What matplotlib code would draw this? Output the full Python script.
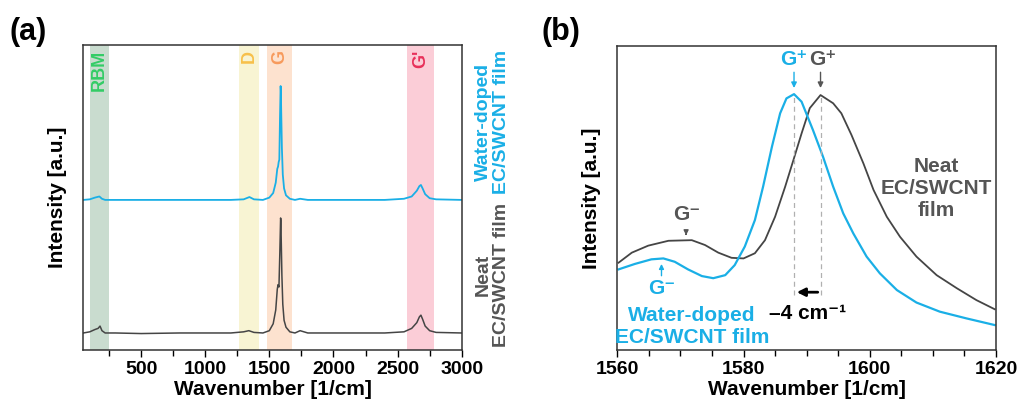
import numpy as np
import matplotlib
matplotlib.use("Agg")
import matplotlib.pyplot as plt

plt.rcParams['font.family'] = ['Liberation Sans', 'DejaVu Sans']
plt.rcParams['font.weight'] = 'bold'
plt.rcParams['mathtext.fontset'] = 'custom'
plt.rcParams['mathtext.rm'] = 'Liberation Sans:bold'
plt.rcParams['mathtext.default'] = 'rm'

# ---- panel (a): full Raman spectra (wavenumber, relative intensity) ----
neat_wn = [50, 100, 140, 165, 180, 195, 220, 300, 500, 800, 1000, 1200, 1300, 1340,
           1380, 1450, 1500, 1530, 1550, 1562, 1568, 1575, 1582, 1588, 1590, 1593,
           1598, 1605, 1615, 1630, 1660, 1700, 1740, 1770, 1800, 2000, 2400, 2550,
           2610, 2650, 2670, 2682, 2695, 2715, 2750, 2800, 3000]
neat_int = [0.0, 0.01, 0.03, 0.04, 0.06, 0.02, 0.0, 0.0, -0.005, 0.0, 0.0, 0.0, 0.01, 0.02,
            0.005, 0.0, 0.02, 0.08, 0.2, 0.38, 0.42, 0.40, 0.7, 1.0, 0.98, 0.8,
            0.5, 0.25, 0.11, 0.05, 0.01, 0.0, 0.02, 0.01, 0.0, 0.0, 0.0, 0.01,
            0.04, 0.09, 0.14, 0.155, 0.12, 0.06, 0.02, 0.005, 0.0]

doped_wn = [50, 100, 140, 175, 195, 220, 300, 500, 800, 1000, 1200, 1300, 1345,
            1380, 1450, 1500, 1530, 1550, 1562, 1568, 1573, 1578, 1583, 1588, 1590,
            1593, 1598, 1605, 1615, 1630, 1660, 1700, 1740, 1770, 1800, 2000, 2400,
            2550, 2610, 2650, 2670, 2682, 2695, 2715, 2750, 2800, 3000]
doped_int = [0.0, 0.005, 0.02, 0.03, 0.01, 0.0, 0.0, 0.0, 0.0, 0.0, 0.0, 0.005, 0.025,
             0.005, 0.0, 0.02, 0.06, 0.15, 0.27, 0.29, 0.33, 0.35, 0.7, 0.99, 0.95,
             0.75, 0.45, 0.22, 0.1, 0.04, 0.01, 0.0, 0.01, 0.005, 0.0, 0.0, 0.0,
             0.01, 0.03, 0.08, 0.12, 0.13, 0.1, 0.05, 0.015, 0.005, 0.0]

band_names = ['RBM', 'D', 'G', "G'"]
band_ranges = [(105, 250), (1265, 1416), (1483, 1673), (2571, 2787)]
band_fill = ['#c9dccf', '#f8f4d3', '#fde2cf', '#fbcdd7']
band_text = ['#33cc66', '#f7c04a', '#f79a5c', '#e8305a']

# ---- panel (b): zoom on G band ----
neat_g_wn = [1560.2, 1562.3, 1564.9, 1568.1, 1571.8, 1573.9, 1576.0, 1578.1, 1580.0,
             1581.8, 1583.4, 1585.0, 1586.6, 1587.9, 1589.2, 1590.5, 1592.2, 1594.2,
             1595.5, 1597.1, 1599.0, 1600.6, 1602.7, 1604.8, 1607.4, 1610.6, 1613.8,
             1616.9, 1619.8]
neat_g_int = [0.287, 0.32, 0.343, 0.359, 0.361, 0.345, 0.32, 0.303, 0.301,
              0.318, 0.361, 0.438, 0.537, 0.624, 0.712, 0.795, 0.838, 0.811,
              0.778, 0.707, 0.613, 0.526, 0.438, 0.372, 0.307, 0.246, 0.203,
              0.164, 0.134]
doped_g_wn = [1560.2, 1562.8, 1565.4, 1567.3, 1569.1, 1571.2, 1573.4, 1575.2, 1577.1,
              1578.6, 1580.2, 1581.8, 1583.1, 1584.5, 1585.8, 1586.8, 1588.0, 1589.2,
              1591.0, 1592.6, 1594.2, 1595.8, 1597.4, 1599.5, 1601.6, 1604.3, 1607.4,
              1611.1, 1615.3, 1619.8]
doped_g_int = [0.265, 0.283, 0.298, 0.301, 0.29, 0.265, 0.243, 0.236, 0.246,
               0.279, 0.34, 0.427, 0.537, 0.668, 0.778, 0.827, 0.841, 0.816,
               0.723, 0.635, 0.537, 0.449, 0.383, 0.307, 0.252, 0.197, 0.156,
               0.126, 0.104, 0.082]

gplus_doped = 1588.0
gplus_neat = 1592.2

CYAN = '#1aafe6'
GRAY = '#454545'
TEXTGRAY = '#555555'

fig = plt.figure(figsize=(10.19, 4.05), dpi=100)
ax1 = fig.add_axes([0.0818, 0.1358, 0.3713, 0.7531])
ax2 = fig.add_axes([0.6058, 0.1358, 0.3716, 0.7512])

# ---------- (a) ----------
offset = 1.157
for (lo, hi), fc, tc, name in zip(band_ranges, band_fill, band_text, band_names):
    ax1.axvspan(lo, hi, color=fc, lw=0, zorder=0)
    ax1.text((lo + hi) / 2, 0.985, name, transform=ax1.get_xaxis_transform(),
             rotation=90, ha='center', va='top', color=tc, fontsize=13,
             fontweight='bold')
ax1.plot(neat_wn, neat_int, color=GRAY, lw=1.1, zorder=2)
ax1.plot(doped_wn, np.array(doped_int) + offset, color=CYAN, lw=1.3, zorder=2)
ax1.set_xlim(50, 3000)
ax1.set_ylim(-0.148, 2.504)
ax1.set_yticks([])
ax1.set_xticks([500, 1000, 1500, 2000, 2500, 3000])
ax1.set_xticks(np.arange(250, 3001, 500), minor=True)
ax1.set_xlabel('Wavenumber [1/cm]', fontsize=15, fontweight='bold', labelpad=1)
ax1.set_ylabel('Intensity [a.u.]', fontsize=15, fontweight='bold', labelpad=12)

fig.text(0.466, 0.70, 'Water-doped\nEC/SWCNT film', rotation=90, ha='left',
         va='center', color=CYAN, fontsize=14, fontweight='bold',
         multialignment='center', linespacing=1.05)
fig.text(0.466, 0.322, 'Neat\nEC/SWCNT film', rotation=90, ha='left',
         va='center', color=TEXTGRAY, fontsize=14, fontweight='bold',
         multialignment='center', linespacing=1.05)

# ---------- (b) ----------
ax2.plot(neat_g_wn, neat_g_int, color=GRAY, lw=1.3)
ax2.plot(doped_g_wn, doped_g_int, color=CYAN, lw=1.6)
ax2.set_xlim(1560, 1620)
ax2.set_ylim(0, 1)
ax2.set_yticks([])
ax2.set_xticks([1560, 1580, 1600, 1620])
ax2.set_xticks(np.arange(1565, 1620, 5), minor=True)
ax2.set_xlabel('Wavenumber [1/cm]', fontsize=15, fontweight='bold', labelpad=1)
ax2.set_ylabel('Intensity [a.u.]', fontsize=15, fontweight='bold', labelpad=12)

for x in (gplus_doped, gplus_neat):
    ax2.plot([x, x], [0.18, 0.838], color='#b0b0b0', lw=0.9, ls=(0, (4, 3)))

ax2.text(gplus_doped, 0.922, 'G⁺', color=CYAN, ha='center', va='bottom',
         fontsize=15, fontweight='bold')
ax2.annotate('', xy=(gplus_doped, 0.852), xytext=(gplus_doped, 0.922),
             arrowprops=dict(arrowstyle='-|>', color=CYAN, lw=1, mutation_scale=8))
ax2.text(gplus_neat + 0.4, 0.922, 'G⁺', color=TEXTGRAY, ha='center', va='bottom',
         fontsize=15, fontweight='bold')
ax2.annotate('', xy=(gplus_neat, 0.852), xytext=(gplus_neat, 0.922),
             arrowprops=dict(arrowstyle='-|>', color=TEXTGRAY, lw=1, mutation_scale=8))

ax2.annotate('', xy=(gplus_doped, 0.19), xytext=(gplus_neat, 0.19),
             arrowprops=dict(arrowstyle='-|>', color='black', lw=2, mutation_scale=12))
ax2.text((gplus_doped + gplus_neat) / 2, 0.12, '–4 cm⁻¹', ha='center',
         va='center', fontsize=15, fontweight='bold', color='black')

ax2.text(1571, 0.415, 'G⁻', color=TEXTGRAY, ha='center', va='bottom',
         fontsize=15, fontweight='bold')
ax2.annotate('', xy=(1570.9, 0.368), xytext=(1570.9, 0.39),
             arrowprops=dict(arrowstyle='-|>', color=TEXTGRAY, lw=1, mutation_scale=7))
ax2.text(1567, 0.232, 'G⁻', color=CYAN, ha='center', va='top',
         fontsize=15, fontweight='bold')
ax2.annotate('', xy=(1567, 0.292), xytext=(1567, 0.235),
             arrowprops=dict(arrowstyle='-|>', color=CYAN, lw=1, mutation_scale=7))
ax2.text(1571.8, 0.078, 'Water-doped\nEC/SWCNT film', color=CYAN, ha='center',
         va='center', fontsize=15, fontweight='bold', linespacing=1.2)
ax2.text(1610.6, 0.531, 'Neat\nEC/SWCNT\nfilm', color=TEXTGRAY, ha='center',
         va='center', fontsize=15, fontweight='bold', linespacing=1.2)

for ax in (ax1, ax2):
    for s in ax.spines.values():
        s.set_linewidth(1.1)
        s.set_color('#333333')
    ax.tick_params(axis='x', which='both', direction='out', labelsize=14,
                   top=False, width=1.0, pad=3)
    ax.tick_params(axis='x', which='major', length=5)
    ax.tick_params(axis='x', which='minor', length=4)
    for lbl in ax.get_xticklabels():
        lbl.set_fontweight('bold')

fig.text(0.009, 0.92, '(a)', fontsize=22, fontweight='bold', va='center')
fig.text(0.531, 0.92, '(b)', fontsize=22, fontweight='bold', va='center')

fig.savefig('out.png', dpi=100)
